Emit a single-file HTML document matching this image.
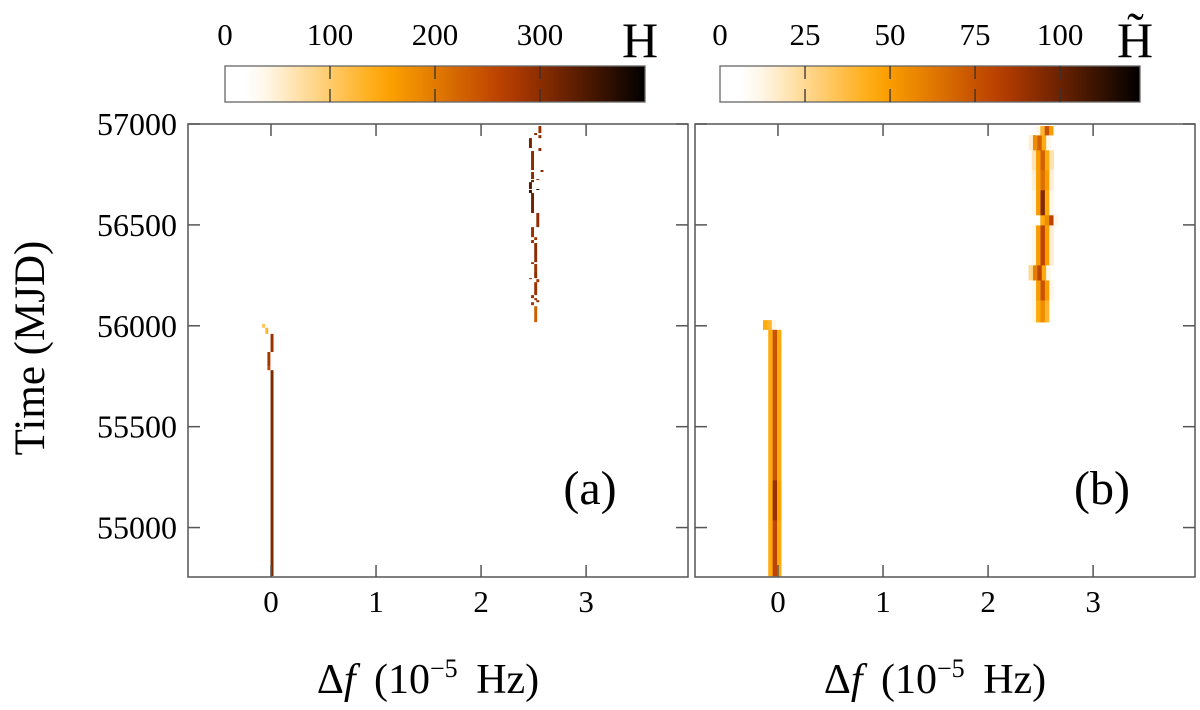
<!DOCTYPE html>
<html><head><meta charset="utf-8"><style>
body{margin:0;background:#fff}
svg{display:block;font-family:"Liberation Serif",serif}
</style></head><body>
<svg id="fig" width="1200" height="710" viewBox="0 0 1200 710"></svg>
<script>
// ---- data ----
const xTicks=[0,1,2,3];
const yTicks=[55000,55500,56000,56500,57000];
const cbTicksA=[0,100,200,300];
const cbTicksB=[0,25,50,75,100];
// panel (a): narrow segments
const aT0=[54760,55870,55800,55780,55960,55990,56018,56102,56117,56127,56137,56152,56216,56231,56236,56271,56306,56315,56410,56425,56439,56489,56559,56658,56673,56678,56712,56722,56727,56762,56772,56782,56866,56876,56881,56930,56945,56955];
const aT1=[55780,55960,55870,55800,55990,56010,56097,56117,56127,56137,56152,56216,56231,56236,56271,56306,56315,56410,56425,56439,56489,56559,56658,56673,56678,56712,56722,56727,56762,56772,56782,56866,56876,56881,56930,56945,56955,56990];
const aF=[0.01,0.01,-0.02,-0.02,-0.04,-0.07,2.52,2.49,2.54,2.52,2.49,2.52,2.54,2.47,2.52,2.52,2.49,2.52,2.49,2.52,2.49,2.54,2.49,2.47,2.54,2.47,2.49,2.54,2.49,2.58,2.49,2.49,2.56,2.56,2.47,2.56,2.52,2.56];
const aV=[310,290,280,260,130,110,230,280,300,290,290,290,280,300,300,290,290,300,290,290,290,300,320,360,380,340,330,300,300,300,300,300,300,300,320,300,310,290];
// panel (b): broad segments, 5-column profiles
const bT0=[56018,56127,56226,56301,56499,56549,56673,56772,56871,56945,55980,55904,55234,55036,54760];
const bT1=[56127,56226,56301,56499,56549,56673,56772,56871,56945,56990,56028,55980,55904,55234,55036];
const bF=[2.52,2.52,2.49,2.52,2.56,2.52,2.52,2.52,2.49,2.56,-0.08,-0.03,-0.03,-0.03,-0.03];
const bP1=[12,12,25,12,8,12,15,20,15,12,5,8,8,8,8];
const bP2=[45,50,60,50,45,50,50,50,55,40,45,45,45,45,45];
const bP3=[55,75,80,80,55,95,65,70,70,75,40,75,75,90,80];
const bP4=[40,50,45,50,80,45,50,45,45,50,12,45,45,48,45];
const bP5=[10,12,12,15,12,12,15,20,12,8,5,8,8,8,8];
// ---- helpers ----
const NS="http://www.w3.org/2000/svg";
const svg=document.getElementById('fig');
function mk(tag,at,parent){const e=document.createElementNS(NS,tag);for(const k in at)e.setAttribute(k,at[k]);(parent||svg).appendChild(e);return e;}
const stops=[[0,[255,255,255]],[0.07,[255,255,255]],[0.38,[255,165,0]],[0.67,[184,60,0]],[1,[0,0,0]]];
function cmap(u){u=Math.max(0,Math.min(1,u));for(let i=1;i<stops.length;i++){if(u<=stops[i][0]){const a=stops[i-1],b=stops[i];const t=(u-a[0])/(b[0]-a[0]);const c=a[1].map((v,j)=>Math.round(v+(b[1][j]-v)*t));return `rgb(${c[0]},${c[1]},${c[2]})`;}}return 'rgb(0,0,0)';}
const Y0=124,Y1=577,TMIN=54755,TMAX=57000;
const ys=t=>Y1-(t-TMIN)/(TMAX-TMIN)*(Y1-Y0);
const FMIN=-0.79,FMAX=3.97;
function panel(x0,x1,name){
  const g=mk('g',{});
  
  
  return {g,xs:f=>x0+(f-FMIN)/(FMAX-FMIN)*(x1-x0),x0,x1};
}
const A=panel(188,688,'panel-a'),B=panel(695,1195,'panel-b');
const defs=mk('defs',{});
[[A,'ca'],[B,'cb']].forEach(([p,id])=>{const c=mk('clipPath',{id},defs);mk('rect',{x:p.x0,y:Y0,width:p.x1-p.x0,height:Y1-Y0},c);});
const ga=mk('g',{'clip-path':'url(#ca)'},A.g);
for(let i=0;i<aT0.length;i++){
  const w=0.028;
  const r=mk('rect',{x:A.xs(aF[i]-w/2),y:ys(aT1[i]),width:A.xs(w)-A.xs(0),height:ys(aT0[i])-ys(aT1[i]),fill:cmap(aV[i]/400)},ga);
  
  
}
const gb=mk('g',{'clip-path':'url(#cb)'},B.g);
const prof=[bP1,bP2,bP3,bP4,bP5];
for(let i=0;i<bT0.length;i++){
  for(let k=0;k<5;k++){
    const w=0.042,fc=bF[i]+(k-2)*w;
    const r=mk('rect',{x:B.xs(fc-w/2),y:ys(bT1[i]),width:B.xs(w)-B.xs(0)+0.3,height:ys(bT0[i])-ys(bT1[i])+0.3,fill:cmap(prof[k][i]/123.5)},gb);
    
    
  }
}
[A,B].forEach(p=>{
  const fr=mk('rect',{x:p.x0,y:Y0,width:p.x1-p.x0,height:Y1-Y0,fill:'none',stroke:'#555','stroke-width':1.5},p.g);
  
  
  xTicks.forEach(v=>{const x=p.xs(v);
    mk('line',{x1:x,x2:x,y1:Y0,y2:Y0+12,stroke:'#555','stroke-width':1.5},p.g);
    mk('line',{x1:x,x2:x,y1:Y1,y2:Y1-12,stroke:'#555','stroke-width':1.5},p.g);
    const t=mk('text',{x:x,y:612,'font-size':31,'text-anchor':'middle'},p.g);t.textContent=v;
    
    
  });
  yTicks.forEach(v=>{const y=ys(v);
    mk('line',{x1:p.x0,x2:p.x0+12,y1:y,y2:y,stroke:'#555','stroke-width':1.5},p.g);
    mk('line',{x1:p.x1,x2:p.x1-12,y1:y,y2:y,stroke:'#555','stroke-width':1.5},p.g);
  });
  const xl=mk('text',{x:(p.x0+p.x1)/2-10,y:693,'font-size':42,'text-anchor':'middle','word-spacing':8},p.g);
  xl.innerHTML='Δ<tspan font-style="italic">f</tspan>  (10<tspan dy="-16" font-size="26">−5</tspan><tspan dy="16"> Hz)</tspan>';
  
  
});
yTicks.forEach(v=>{const t=mk('text',{x:177,y:ys(v)+11,'font-size':32,'text-anchor':'end'});t.textContent=v;
  
  });
const yl=mk('text',{x:0,y:0,'font-size':43,'text-anchor':'middle',transform:'translate(44,348) rotate(-90)'});
yl.textContent='Time (MJD)';


[[A,'(a)',590],[B,'(b)',1102]].forEach(([p,s,x])=>{const t=mk('text',{x,y:504,'font-size':48,'text-anchor':'middle'},p.g);t.textContent=s;
  
  });
function colorbar(x0,x1,max,ticks,id,name,lab){
  const g=mk('g',{});
  
  
  const lg=mk('linearGradient',{id,x1:0,x2:1,y1:0,y2:0},defs);
  for(let i=0;i<=20;i++)mk('stop',{offset:i/20,'stop-color':cmap(i/20)},lg);
  mk('rect',{x:x0,y:66,width:x1-x0,height:36,fill:`url(#${id})`,stroke:'#666','stroke-width':1.3},g);
  ticks.forEach(v=>{const x=x0+v/max*(x1-x0);
    if(v>0){mk('line',{x1:x,x2:x,y1:66,y2:79,stroke:'#333','stroke-width':1.3},g);mk('line',{x1:x,x2:x,y1:89,y2:102,stroke:'#333','stroke-width':1.3},g);}
    const t=mk('text',{x,y:45,'font-size':31,'text-anchor':'middle'},g);t.textContent=v;
    
    });
  const t=mk('text',{x:x1-5,y:57,'font-size':50,'text-anchor':'middle'},g);t.textContent=lab;
  
  
}
colorbar(225,645,400,cbTicksA,'gA','colorbar-a','H');
colorbar(720,1140,123.5,cbTicksB,'gB','colorbar-b','H̃');
</script>
</body></html>
